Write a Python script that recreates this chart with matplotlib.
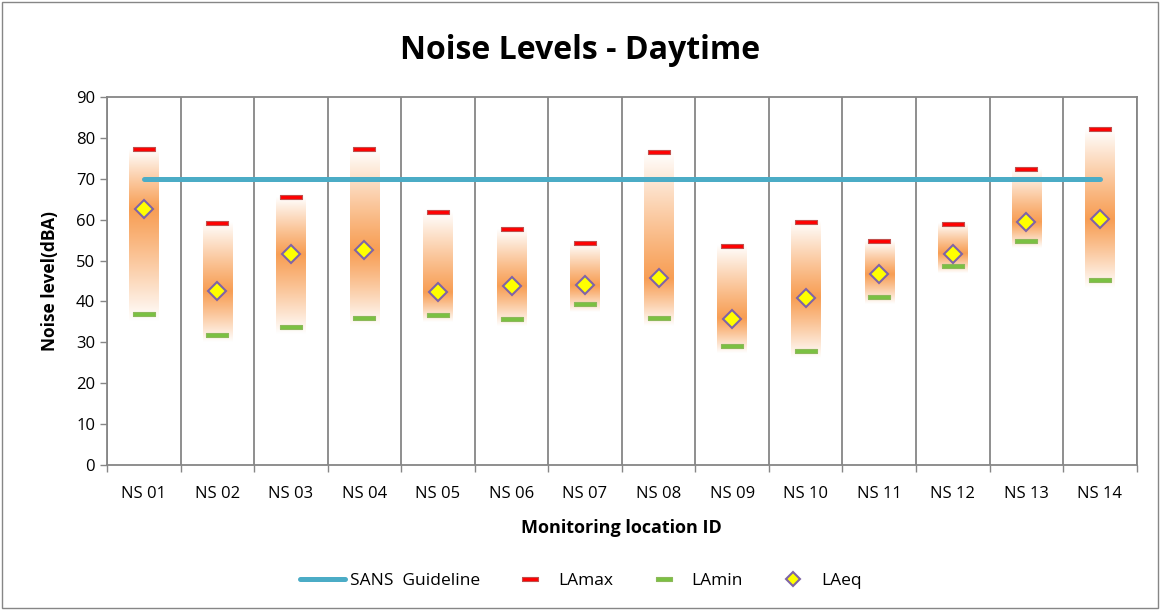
import numpy as np
import matplotlib
matplotlib.use("Agg")
import matplotlib.pyplot as plt
from matplotlib.colors import to_rgb
from matplotlib.lines import Line2D
from matplotlib.patches import Rectangle

plt.rcParams['font.family'] = ['Open Sans', 'DejaVu Sans']

locations = ["NS 01", "NS 02", "NS 03", "NS 04", "NS 05", "NS 06", "NS 07",
             "NS 08", "NS 09", "NS 10", "NS 11", "NS 12", "NS 13", "NS 14"]
la_max = [77.2, 59.3, 65.5, 77.2, 61.8, 57.6, 54.3, 76.6, 53.6, 59.5, 54.8, 59.0, 72.4, 82.1]
la_min = [37.0, 31.9, 33.8, 35.9, 36.7, 35.7, 39.3, 35.9, 29.1, 27.9, 41.2, 48.7, 54.9, 45.2]
la_eq = [62.5, 42.5, 51.5, 52.5, 42.2, 43.7, 44.0, 45.7, 35.8, 40.9, 46.7, 51.7, 59.5, 60.1]
guideline = 70

fig = plt.figure(figsize=(11.61, 6.10), dpi=100)
ax = fig.add_axes([0.0922, 0.2377, 0.8868, 0.6033])

x = np.arange(len(locations))
orange = np.array(to_rgb("#F79646"))
white = np.array([1.0, 1.0, 1.0])
bar_w = 0.40

# Gradient range bars: strongest orange at LAeq, fading out toward both ends
for xi, lo, hi, eq in zip(x, la_min, la_max, la_eq):
    bottom, top = lo - 1.8, hi
    ys = np.linspace(bottom, top, 300)
    t = np.where(ys >= eq, (ys - eq) / max(top - eq, 1e-6), (eq - ys) / max(eq - bottom, 1e-6))
    t = np.clip(t, 0, 1)
    w = 0.08 + 0.92 * t ** 1.1
    rgb = orange[None, :] * (1 - w[:, None]) + white[None, :] * w[:, None]
    img = rgb[:, None, :]
    ax.imshow(img, extent=[xi - bar_w / 2, xi + bar_w / 2, bottom, top],
              origin="lower", aspect="auto", interpolation="bilinear", zorder=2)

# Guideline
ax.plot([x[0], x[-1]], [guideline, guideline], color="#4BACC6", lw=3.6,
        solid_capstyle="round", zorder=3)

dash = [(-1, -0.21), (1, -0.21), (1, 0.21), (-1, 0.21), (-1, -0.21)]
ax.plot(x, la_max, ls="none", marker=dash, ms=16.5, mfc="#FF0000", mec="#C0504D",
        mew=0.8, zorder=4)
ax.plot(x, la_min, ls="none", marker=dash, ms=16.5, mfc="#7AC142", mec="#8DB85A",
        mew=0.8, zorder=4)
ax.plot(x, la_eq, ls="none", marker="D", ms=9, mfc="#FFFF00", mec="#7F64A6",
        mew=1.5, zorder=5)

ax.set_xlim(-0.5, len(locations) - 0.5)
ax.set_ylim(0, 90)
ax.set_yticks(np.arange(0, 91, 10))
ax.set_xticks(x)
ax.set_xticklabels(locations)
ax.set_xticks(np.arange(-0.5, len(locations), 1), minor=True)
ax.tick_params(axis="x", which="major", length=0, labelsize=12, pad=15)
ax.tick_params(axis="x", which="minor", length=5, color="#868686", width=1)
ax.tick_params(axis="y", length=5, color="#868686", width=1, labelsize=12)
ax.grid(axis="x", which="minor", color="#868686", lw=1.3)
ax.set_axisbelow(True)
for sp in ax.spines.values():
    sp.set_color("#868686")
    sp.set_linewidth(1.3)

ax.set_ylabel("Noise level(dBA)", fontsize=12.5, fontweight="bold", labelpad=12)
ax.set_xlabel("Monitoring location ID", fontsize=13, fontweight="bold", labelpad=12)
fig.text(0.5, 0.918, "Noise Levels - Daytime", ha="center", va="center",
         fontsize=23, fontweight="bold")

handles = [
    Line2D([], [], color="#4BACC6", lw=3.6, solid_capstyle="round"),
    Line2D([], [], ls="none", marker=dash, ms=12, mfc="#FF0000", mec="#C0504D", mew=0.8),
    Line2D([], [], ls="none", marker=dash, ms=12, mfc="#7AC142", mec="#8DB85A", mew=0.8),
    Line2D([], [], ls="none", marker="D", ms=7.5, mfc="#FFFF00", mec="#7F64A6", mew=1.5),
]
fig.legend(handles, ["SANS  Guideline", "LAmax", "LAmin", "LAeq"],
           loc="center", bbox_to_anchor=(0.5, 0.047), ncol=4, frameon=False,
           fontsize=12.5, handlelength=2.6, columnspacing=1.6, handletextpad=0.3)

fig.patches.append(Rectangle((0.002, 0.003), 0.995, 0.994, transform=fig.transFigure,
                             fill=False, edgecolor="#868686", lw=1))

fig.savefig("out.png", dpi=100)
